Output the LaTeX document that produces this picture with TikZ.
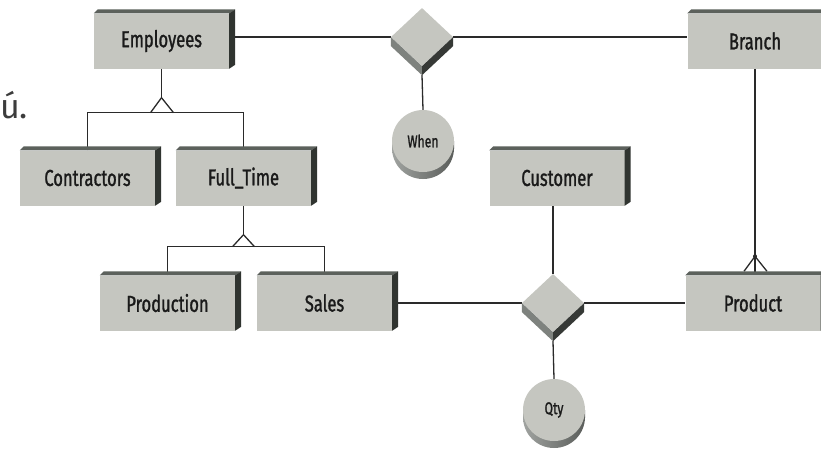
\documentclass[tikz,border=0pt]{standalone}
\usepackage{fontspec}
\setmainfont{Fira Sans}
\newfontfamily\erfont{Fira Sans}[FakeStretch=0.72, FakeBold=1.2]
\usetikzlibrary{shapes.geometric,calc}
\pgfdeclarelayer{background}
\pgfsetlayers{background,main}
\definecolor{boxfill}{HTML}{C5C6C0}
\definecolor{boxtop}{HTML}{5C615C}
\definecolor{boxside}{HTML}{303430}
\definecolor{extl}{HTML}{7E827E}
\definecolor{extr}{HTML}{363936}
\definecolor{cyll}{HTML}{A0A3A0}
\definecolor{cylr}{HTML}{5A5D5A}
\definecolor{txt}{HTML}{1A1A1A}
\definecolor{lin}{HTML}{2A2A2A}
\definecolor{ugray}{HTML}{3C3C3C}
\tikzset{
  ent/.style={rectangle, fill=boxfill, minimum width=135, minimum height=55, inner sep=0,
    font=\erfont\fontsize{23}{23}\selectfont, text=txt},
  rel/.style={diamond, fill=boxfill, minimum width=62, minimum height=58, inner sep=0},
  attr/.style={circle, fill=boxfill, minimum size=62, inner sep=0,
    font=\erfont\fontsize{17}{17}\selectfont, text=txt},
  conn/.style={draw=lin, line width=1.3pt},
}
\newcommand\entity[4]{%
  \node[ent] (#1) at (#2,#3) {#4};
  \fill[boxtop] (#1.north west) -- ++(4,-4) -- ($(#1.north east)+(6,-4)$) -- (#1.north east) -- cycle;
  \fill[boxside] (#1.north east) -- ++(6,-4) -- ($(#1.south east)+(6,-4)$) -- (#1.south east) -- cycle;
  \coordinate (#1-r) at ($(#1.east)+(6,0)$);
}
\newcommand\relation[3]{%
  \node[rel] (#1) at (#2,#3) {};
  \fill[extl] (#1.west) -- (#1.south) -- ++(0,9) -- ($(#1.west)+(0,9)$) -- cycle;
  \fill[extr] (#1.south) -- (#1.east) -- ++(0,9) -- ($(#1.south)+(0,9)$) -- cycle;
  \coordinate (#1-b) at ($(#1.south)+(0,9)$);
}
\newcommand\attribute[4]{%
  \shade[left color=cyll, right color=cylr] ({#2-31},{#3}) rectangle ({#2+31},{#3+7});
  \shade[left color=cyll, right color=cylr] ({#2},{#3+7}) circle (31);
  \node[attr] (#1) at (#2,#3) {#4};
}
\begin{document}
\begin{tikzpicture}[x=1pt, y=-1pt]
\useasboundingbox (0,0) rectangle (821,448);
\clip (0,0) rectangle (821,448);
\begin{pgfonlayer}{background}
\fill[white] (0,0) rectangle (821,448);
\end{pgfonlayer}

\node[anchor=base west, inner sep=0, text=ugray, font=\fontsize{34}{34}\selectfont] (frag) at (0,118) {ú.};

\entity{Employees}{161.5}{41}{Employees}
\entity{Branch}{755}{41}{Branch}
\entity{Contractors}{87.5}{178}{Contractors}
\entity{FullTime}{243.5}{178}{Full\_Time}
\entity{Customer}{557}{178}{Customer}
\entity{Production}{167.5}{303}{Production}
\entity{Sales}{324.5}{303}{Sales}
\entity{Product}{753}{303}{Product}

\relation{works}{422}{37}
\relation{sells}{553}{303}

\attribute{When}{423}{141}{When}
\attribute{Qty}{554}{410}{Qty}

\begin{pgfonlayer}{background}
  % Employees - works - Branch
  \draw[conn] (works.west) -- (works.west -| Employees-r);
  \draw[conn] (works.east) -- (works.east -| Branch.west);
  \draw[conn] (works-b) -- (When.north);
  % Employees ISA
  \coordinate (isa1) at ($(Employees.south)+(0,29)$);
  \draw[conn] (Employees.south) -- (isa1);
  \draw[conn] (isa1) -- ++(-11,15);
  \draw[conn] (isa1) -- ++(12,15);
  \draw[conn] (Contractors.north) -- ++(0,-38) -| (FullTime.north);
  % Full_Time ISA
  \coordinate (isa2) at ($(FullTime.south)+(0,29)$);
  \draw[conn] (FullTime.south) -- (isa2);
  \draw[conn] (isa2) -- ++(-11,12);
  \draw[conn] (isa2) -- ++(11,12);
  \draw[conn] (Production.north) -- ++(0,-29) -| (Sales.north);
  % sells
  \draw[conn] (sells.west) -- (sells.west -| Sales-r);
  \draw[conn] (sells.east) -- (sells.east -| Product.west);
  \draw[conn] (sells.north) -- (sells.north |- Customer.south);
  \draw[conn] (sells-b) -- (Qty.north);
  % Branch - Product crow's foot
  \draw[conn] (Branch.south) -- (Branch.south |- Product.north);
  \coordinate (cf) at ($(Branch.south |- Product.north)+(0,-19)$);
  \draw[conn] (cf) -- ++(-11,15);
  \draw[conn] (cf) -- ++(12,15);
  \fill[lin] (cf) circle (2);
\end{pgfonlayer}
\end{tikzpicture}
\end{document}
